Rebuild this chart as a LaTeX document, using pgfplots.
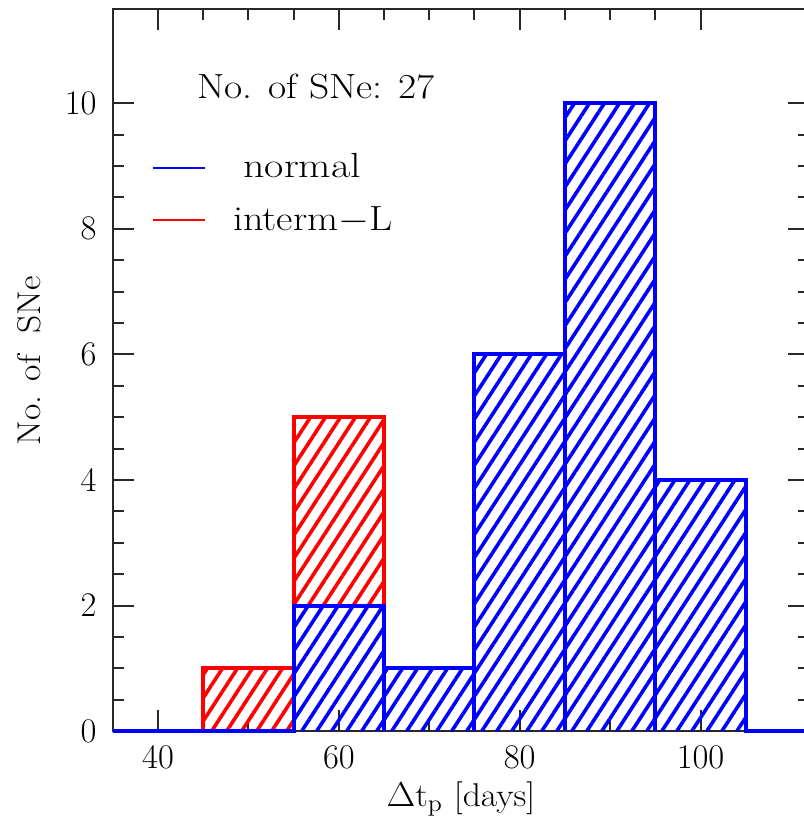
\documentclass[border=0pt]{standalone}
\usepackage{pgfplots}
\pgfplotsset{compat=1.18}
\usetikzlibrary{patterns.meta}
\definecolor{axgray}{RGB}{40,40,40}
\begin{document}
\begin{tikzpicture}
\begin{axis}[
  scale only axis, width=348.5pt, height=361.5pt,
  xmin=35, xmax=112, ymin=0, ymax=11.5,
  xtick={40,60,80,100}, ytick={0,2,4,6,8,10},
  minor x tick num=3, minor y tick num=3,
  tick align=inside,
  major tick length=10.5pt, minor tick length=5.5pt,
  axis line style={line width=1pt, axgray},
  every tick/.style={line width=1pt, axgray},
  tick label style={font=\fontsize{16.5}{19}\selectfont},
  xticklabel style={yshift=-4pt},
  yticklabel style={xshift=-4.7pt},
  clip=false,
  xlabel={\scalebox{1.08}[1]{\(\Delta\)t\(_{\mathrm{p}}\) [days]}},
  ylabel={\scalebox{1.08}[1]{No. of\ \ SNe}},
  every axis x label/.style={at={(axis description cs:0.5,0)}, anchor=north, yshift=-22pt, font=\fontsize{16.5}{19}\selectfont},
  every axis y label/.style={at={(axis description cs:-0.1205,0.513)}, rotate=90, anchor=center, font=\fontsize{16.5}{19}\selectfont},
]
% red (interm-L) hatched regions
\addplot[draw=none, pattern={Lines[angle=57,distance=6.3pt,line width=1.8pt]}, pattern color=red]
  coordinates {(45,0)(45,1)(55,1)(55,0)} -- cycle;
\addplot[draw=none, pattern={Lines[angle=57,distance=6.3pt,line width=1.8pt]}, pattern color=red]
  coordinates {(55,2)(55,5)(65,5)(65,2)} -- cycle;
% blue (normal) hatched region
\addplot[draw=none, pattern={Lines[angle=57,distance=6.3pt,line width=1.8pt]}, pattern color=blue]
  coordinates {(55,0)(55,2)(65,2)(65,1)(75,1)(75,6)(85,6)(85,10)(95,10)(95,4)(105,4)(105,0)} -- cycle;
% red outline
\addplot[red, line width=2pt, mark=none] coordinates {(45,0)(45,1)(55,1)(55,5)(65,5)(65,2)};
% blue outlines
\addplot[blue, line width=2pt, mark=none] coordinates {(35,0)(55,0)(55,2)(65,2)(65,0)};
\addplot[blue, line width=2pt, mark=none] coordinates {(65,1)(75,1)(75,0)};
\addplot[blue, line width=2pt, mark=none] coordinates {(75,0)(75,6)(85,6)(85,0)};
\addplot[blue, line width=2pt, mark=none] coordinates {(85,0)(85,10)(95,10)(95,0)};
\addplot[blue, line width=2pt, mark=none] coordinates {(95,0)(95,4)(105,4)(105,0)(112,0)};
% legend lines
\addplot[blue, line width=0.7pt, mark=none] coordinates {(39.42,8.97)(45.17,8.97)};
\addplot[red, line width=0.7pt, mark=none] coordinates {(39.42,8.14)(45.17,8.14)};
\node[anchor=base west, font=\fontsize{17.5}{20}\selectfont, inner sep=0pt] at (axis cs:44.28,10.07) {\scalebox{1.13}[1]{No. of SNe: 27}};
\node[anchor=base west, font=\fontsize{17.5}{20}\selectfont, inner sep=0pt] at (axis cs:49.4,8.81) {\scalebox{1.2}[1]{normal}};
\node[anchor=base west, font=\fontsize{17.5}{20}\selectfont, inner sep=0pt] at (axis cs:48.26,7.97) {\scalebox{1.15}[1]{interm\(-\)L}};
\end{axis}
\pgfresetboundingbox
\path ([xshift=-56.5pt,yshift=-47.5pt]current axis.south west) rectangle ([xshift=-3pt,yshift=4.5pt]current axis.north east);
\end{tikzpicture}
\end{document}
